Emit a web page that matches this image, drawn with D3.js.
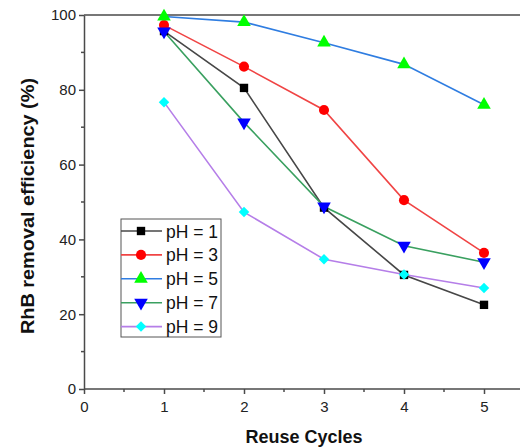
<!DOCTYPE html>
<html>
<head>
<meta charset="utf-8">
<script src="https://cdn.jsdelivr.net/npm/d3@7"></script>
<style>
  body { margin: 0; background: #fff; }
  svg { font-family: "Liberation Sans", Arial, sans-serif; }
</style>
</head>
<body>
<div id="app"></div>
<script>
// data
const cycles = [1, 2, 3, 4, 5];
const ph1 = [95.7, 80.5, 48.5, 30.5, 22.5];
const ph3 = [97.3, 86.2, 74.6, 50.5, 36.4];
const ph5 = [99.6, 98.1, 92.6, 86.8, 76.0];
const ph7 = [95.6, 71.3, 48.8, 38.3, 33.9];
const ph9 = [76.7, 47.3, 34.7, 30.6, 27.0];
const seriesNames = ["pH = 1", "pH = 3", "pH = 5", "pH = 7", "pH = 9"];
const xTicks = [0, 1, 2, 3, 4, 5];
const yTicks = [0, 20, 40, 60, 80, 100];

const w = 521, h = 448;
const padL = 84, padR = 520, padT = 15, padB = 389;

const svg = d3.select("#app").append("svg")
  .attr("width", w)
  .attr("height", h);

const xScale = d3.scaleLinear().domain([0, 5.45]).range([padL, padR]);
const yScale = d3.scaleLinear().domain([0, 100]).range([padB, padT]);

const series = [
  {name: seriesNames[0], vals: ph1, line: "#474747", fill: "#000000", shape: d3.symbolSquare, size: 70, rot: 0},
  {name: seriesNames[1], vals: ph3, line: "#f04444", fill: "#ff0000", shape: d3.symbolCircle, size: 80, rot: 0},
  {name: seriesNames[2], vals: ph5, line: "#2f7de1", fill: "#00ff00", shape: d3.symbolTriangle, size: 80, rot: 0},
  {name: seriesNames[3], vals: ph7, line: "#3aa060", fill: "#0000ff", shape: d3.symbolTriangle, size: 80, rot: 180},
  {name: seriesNames[4], vals: ph9, line: "#b57ee8", fill: "#00ffff", shape: d3.symbolSquare, size: 55, rot: 45}
];

// top frame line
svg.append("line")
  .attr("x1", padL).attr("x2", padR)
  .attr("y1", padT).attr("y2", padT)
  .attr("stroke", "#4a4a4a").attr("stroke-width", 1.5);

// axes
const xAxis = d3.axisBottom(xScale).tickValues(xTicks).tickFormat(d3.format("d")).tickSize(5).tickSizeOuter(0);
const yAxis = d3.axisLeft(yScale).tickValues(yTicks).tickSize(5).tickSizeOuter(0);

const gx = svg.append("g")
  .attr("transform", "translate(0," + padB + ")")
  .call(xAxis);
gx.select(".domain").attr("d", "M" + padL + ",0H" + padR);
const gy = svg.append("g")
  .attr("transform", "translate(" + padL + ",0)")
  .call(yAxis);

// minor ticks
gx.selectAll(".minor").data([0.5, 1.5, 2.5, 3.5, 4.5]).enter().append("line")
  .attr("class", "minor")
  .attr("x1", d => xScale(d)).attr("x2", d => xScale(d))
  .attr("y1", 0).attr("y2", 3);
gy.selectAll(".minor").data([10, 30, 50, 70, 90]).enter().append("line")
  .attr("class", "minor")
  .attr("y1", d => yScale(d)).attr("y2", d => yScale(d))
  .attr("x1", 0).attr("x2", -3);

svg.selectAll(".domain, .tick line, .minor")
  .attr("stroke", "#4a4a4a").attr("stroke-width", 1.5);
svg.selectAll(".tick text")
  .attr("font-size", 15).attr("fill", "#222")
  .attr("font-family", "Liberation Sans, Arial, sans-serif");
gx.selectAll(".tick text").attr("dy", "1.0em");

// axis titles
svg.append("text")
  .attr("x", 304).attr("y", 443)
  .attr("text-anchor", "middle")
  .attr("font-weight", "bold").attr("font-size", 18)
  .attr("fill", "#111")
  .text("Reuse Cycles");
svg.append("text")
  .attr("transform", "translate(34,206) rotate(-90)")
  .attr("text-anchor", "middle")
  .attr("font-weight", "bold").attr("font-size", 18)
  .attr("textLength", 256).attr("lengthAdjust", "spacingAndGlyphs")
  .attr("fill", "#111")
  .text("RhB removal efficiency (%)");

const line = d3.line()
  .x((d, i) => xScale(cycles[i]))
  .y(d => yScale(d));

series.forEach(s => {
  svg.append("path")
    .attr("d", line(s.vals))
    .attr("fill", "none")
    .attr("stroke", s.line)
    .attr("stroke-width", 1.6);
});
series.forEach(s => {
  svg.selectAll(null).data(s.vals).enter().append("path")
    .attr("d", d3.symbol().type(s.shape).size(s.size))
    .attr("transform", (d, i) => "translate(" + xScale(cycles[i]) + "," + yScale(d) + ") rotate(" + s.rot + ")")
    .attr("fill", s.fill);
});

// legend
const lg = svg.append("g").attr("transform", "translate(121,219)");
lg.append("rect")
  .attr("x", 0).attr("y", 0)
  .attr("width", 100).attr("height", 118)
  .attr("fill", "#fff").attr("stroke", "#555").attr("stroke-width", 1);
series.forEach((s, i) => {
  const yy = 12 + i * 23.9;
  lg.append("line")
    .attr("x1", 0).attr("x2", 41)
    .attr("y1", yy).attr("y2", yy)
    .attr("stroke", s.line).attr("stroke-width", 1.6);
  lg.append("path")
    .attr("d", d3.symbol().type(s.shape).size(s.size))
    .attr("transform", "translate(20," + yy + ") rotate(" + s.rot + ")")
    .attr("fill", s.fill);
  lg.append("text")
    .attr("x", 45).attr("y", yy + 6.5)
    .attr("font-size", 17.5).attr("fill", "#111")
    .text(s.name);
});
</script>
</body>
</html>
